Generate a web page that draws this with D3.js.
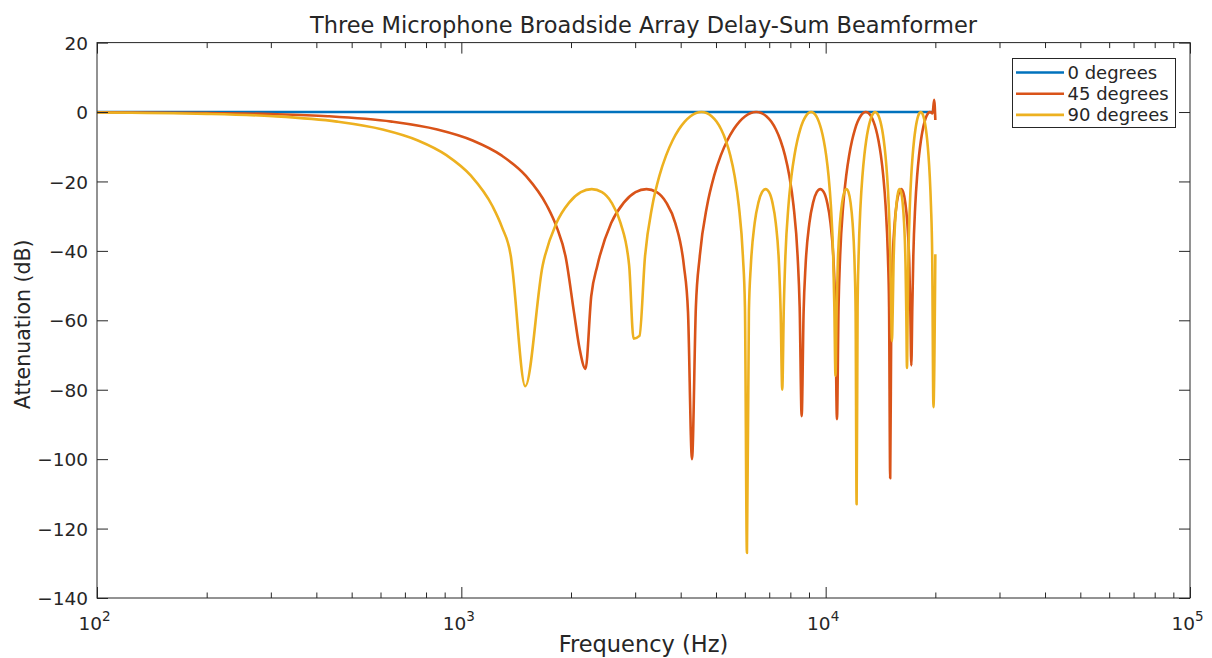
<!DOCTYPE html>
<html><head><meta charset="utf-8">
<script src="https://cdn.jsdelivr.net/npm/d3@7/dist/d3.min.js"></script>
<style>
body{margin:0;background:#fff}
svg text{font-family:"DejaVu Sans",sans-serif;fill:#262626}
</style></head>
<body><svg id="chart" width="1212" height="658"></svg>
<script>
// ---------- data ----------
const titleText = "Three Microphone Broadside Array Delay-Sum Beamformer";
const xLabelText = "Frequency (Hz)";
const yLabelText = "Attenuation (dB)";
const seriesNames = ["0 degrees", "45 degrees", "90 degrees"];
const seriesColors = ["#0072BD", "#D95319", "#EDB120"];

const yTicks = [20, 0, -20, -40, -60, -80, -100, -120, -140];
const xTickExponents = [2, 3, 4, 5];

// 0 degrees
const freq0 = [100, 1000, 5000, 10000, 20000];
const db0 = [0, 0, 0, 0, 0];

// 45 degrees
const freq45 = [100,200,300,430,644,859,1074,1289,1504,1718,1826,1933,2040,2110,2192,2273,2363,2578,2792,3007,3222,3437,3652,3866,4081,4189,4296,4403,4511,4726,4940,5155,5370,5585,5800,6014,6229,6444,
6659,6874,7088,7303,7518,7733,7948,8162,8377,8485,8592,8699,8807,9022,9236,9451,9666,9881,10096,10310,10525,10633,10740,10847,10955,11170,11384,11599,11814,12029,12244,12458,12673,12888,
13103,13318,13532,13747,13962,14177,14392,14606,14821,14929,15036,15143,15251,15466,15680,15895,16110,16325,16540,16754,16969,17077,17184,17291,17399,17614,17828,18043,18258,18473,18688,18902,19117,19332,19650,19850,20000];
const db45 = [-0.07,-0.26,-0.59,-1.2,-2.76,-5.04,-8.2,-12.5,-18.4,-27.0,-33.1,-41.7,-58,-68,-74,-53,-44.2,-32.0,-26.1,-23.1,-22.2,-23.1,-26.1,-32.0,-44.2,-57.5,-100,-56.2,-41.7,-27.0,-18.4,-12.5,-8.2,-5.04,-2.76,-1.2,-0.3,0,
-0.3,-1.2,-2.76,-5.04,-8.2,-12.5,-18.4,-27.0,-41.7,-56.2,-87.6,-57.5,-44.2,-32.0,-26.1,-23.1,-22.2,-23.1,-26.1,-32.0,-44.2,-57.5,-88.5,-56.2,-41.7,-27.0,-18.4,-12.5,-8.2,-5.04,-2.76,-1.2,-0.3,0,
-0.3,-1.2,-2.76,-5.04,-8.2,-12.5,-18.4,-27.0,-41.7,-56.2,-105.5,-57.5,-44.2,-32.0,-26.1,-23.1,-22.2,-23.1,-26.1,-32.0,-44.2,-57.5,-73,-56.2,-41.7,-27.0,-18.4,-12.5,-8.2,-5.04,-2.76,-1.2,-0.3,0,-0.4,3.5,-2.3];

// 90 degrees
const freq90 = [100,200,304,456,608,760,912,1064,1216,1292,1368,1382,1498,1672,1824,1976,2128,2280,2432,2584,2736,2888,2970,3083,3192,3344,3496,3648,3800,3952,4104,4256,4408,4560,
4712,4864,5016,5168,5320,5472,5624,5776,5928,6004,6080,6156,6232,6384,6536,6688,6840,6992,7144,7296,7448,7524,7600,7676,7752,7904,8056,8208,8360,8512,8664,8816,8968,9120,
9272,9424,9576,9728,9880,10032,10184,10336,10488,10564,10640,10716,10792,10944,11096,11248,11400,11552,11704,11856,12008,12084,12160,12236,12312,12464,12616,12768,12920,13072,13224,13376,13528,13680,
13832,13984,14136,14288,14440,14592,14744,14896,15048,15124,15200,15276,15352,15504,15656,15808,15960,16112,16264,16416,16568,16644,16720,16796,16872,17024,17176,17328,17480,17632,17784,17936,18088,18240,
18392,18544,18696,18848,19000,19152,19304,19456,19608,19760,20000];
const db90 = [-0.13,-0.52,-1.2,-2.76,-5.04,-8.2,-12.5,-18.4,-27.0,-33.1,-41.7,-45.5,-79,-44.2,-32.0,-26.1,-23.1,-22.2,-23.1,-26.1,-32.0,-44.2,-65.3,-64.5,-41.7,-27.0,-18.4,-12.5,-8.2,-5.04,-2.76,-1.2,-0.3,0,
-0.3,-1.2,-2.76,-5.04,-8.2,-12.5,-18.4,-27.0,-41.7,-56.2,-127,-57.5,-44.2,-32.0,-26.1,-23.1,-22.2,-23.1,-26.1,-32.0,-44.2,-57.5,-80,-56.2,-41.7,-27.0,-18.4,-12.5,-8.2,-5.04,-2.76,-1.2,-0.3,0,
-0.3,-1.2,-2.76,-5.04,-8.2,-12.5,-18.4,-27.0,-41.7,-56.2,-76,-57.5,-44.2,-32.0,-26.1,-23.1,-22.2,-23.1,-26.1,-32.0,-44.2,-57.5,-113,-56.2,-41.7,-27.0,-18.4,-12.5,-8.2,-5.04,-2.76,-1.2,-0.3,0,
-0.3,-1.2,-2.76,-5.04,-8.2,-12.5,-18.4,-27.0,-41.7,-56.2,-66,-57.5,-44.2,-32.0,-26.1,-23.1,-22.2,-23.1,-26.1,-32.0,-44.2,-57.5,-73.7,-56.2,-41.7,-27.0,-18.4,-12.5,-8.2,-5.04,-2.76,-1.2,-0.3,0,
-0.3,-1.2,-2.76,-5.04,-8.2,-12.5,-18.4,-27.0,-41.7,-85,-41];

// ---------- layout ----------
const svg = d3.select("#chart");
const L = 97, R = 1190, T = 42.6, B = 598;
const x = d3.scaleLog().domain([100, 100000]).range([L, R]);
const y = d3.scaleLinear().domain([-140, 20]).range([B, T]);
const axisColor = "#262626";

const series = [
  {name: seriesNames[0], color: seriesColors[0], pts: freq0.map((f, i) => ({f, v: db0[i]}))},
  {name: seriesNames[1], color: seriesColors[1], pts: freq45.map((f, i) => ({f, v: db45[i]}))},
  {name: seriesNames[2], color: seriesColors[2], pts: freq90.map((f, i) => ({f, v: db90[i]}))}
];

svg.append("defs").append("clipPath").attr("id", "plotclip")
  .append("rect").attr("x", L).attr("y", T).attr("width", R - L).attr("height", B - T);

// lines
const line = d3.line().x(d => x(d.f)).y(d => y(d.v)).curve(d3.curveMonotoneX);
const gLines = svg.append("g").attr("clip-path", "url(#plotclip)");
series.forEach(s => {
  gLines.append("path").datum(s.pts).attr("d", line)
    .attr("fill", "none").attr("stroke", s.color).attr("stroke-width", 2.6)
    .attr("stroke-linejoin", "round").attr("stroke-linecap", "butt");
});

// axes
const majorX = xTickExponents.map(e => Math.pow(10, e));
const minorX = [];
for (let e = 2; e < 5; e++) for (let m = 2; m <= 9; m++) minorX.push(m * Math.pow(10, e));
const TL = 11, TLm = 5.5;

function styleAxis(g) {
  g.select(".domain").remove();
  g.selectAll(".tick line").attr("stroke", axisColor).attr("stroke-width", 1);
}
svg.append("g").attr("transform", `translate(0,${B})`)
  .call(d3.axisBottom(x).tickValues(majorX).tickSizeInner(-TL).tickSizeOuter(0).tickFormat(""))
  .call(styleAxis);
svg.append("g").attr("transform", `translate(0,${B})`)
  .call(d3.axisBottom(x).tickValues(minorX).tickSizeInner(-TLm).tickSizeOuter(0).tickFormat(""))
  .call(styleAxis);
svg.append("g").attr("transform", `translate(0,${T})`)
  .call(d3.axisTop(x).tickValues(majorX).tickSizeInner(-TL).tickSizeOuter(0).tickFormat(""))
  .call(styleAxis);
svg.append("g").attr("transform", `translate(0,${T})`)
  .call(d3.axisTop(x).tickValues(minorX).tickSizeInner(-TLm).tickSizeOuter(0).tickFormat(""))
  .call(styleAxis);
const yAx = svg.append("g").attr("transform", `translate(${L},0)`)
  .call(d3.axisLeft(y).tickValues(yTicks).tickSizeInner(-TL).tickSizeOuter(0).tickPadding(9).tickFormat(d3.format("d")))
  .call(styleAxis);
yAx.selectAll(".tick text").attr("font-size", 18.5).attr("font-family", "DejaVu Sans").attr("fill", axisColor).attr("dy", "0.36em");
svg.append("g").attr("transform", `translate(${R},0)`)
  .call(d3.axisRight(y).tickValues(yTicks).tickSizeInner(-TL).tickSizeOuter(0).tickFormat(""))
  .call(styleAxis);

// x tick labels 10^n
xTickExponents.forEach(e => {
  const t = svg.append("text").attr("x", x(Math.pow(10, e)) - 2.5).attr("y", 630)
    .attr("text-anchor", "middle").attr("font-size", 18.5);
  t.append("tspan").text("10");
  t.append("tspan").attr("dy", -9).attr("font-size", 13.5).text(String(e));
});

// box
svg.append("rect").attr("x", L).attr("y", T).attr("width", R - L).attr("height", B - T)
  .attr("fill", "none").attr("stroke", axisColor).attr("stroke-width", 1);

// title and labels
svg.append("text").attr("x", (L + R) / 2).attr("y", 33).attr("text-anchor", "middle")
  .attr("font-size", 22.5).text(titleText);
svg.append("text").attr("x", (L + R) / 2).attr("y", 652).attr("text-anchor", "middle")
  .attr("font-size", 22.5).text(xLabelText);
svg.append("text").attr("transform", `translate(30,${(T + B) / 2 + 4}) rotate(-90)`)
  .attr("text-anchor", "middle").attr("font-size", 20.5).text(yLabelText);

// legend
const lg = svg.append("g");
lg.append("rect").attr("x", 1012.5).attr("y", 58.5).attr("width", 163).attr("height", 69)
  .attr("fill", "#fff").attr("stroke", axisColor).attr("stroke-width", 1);
series.forEach((s, i) => {
  const ry = 72.5 + i * 21.2;
  lg.append("line").attr("x1", 1016).attr("x2", 1064).attr("y1", ry).attr("y2", ry)
    .attr("stroke", s.color).attr("stroke-width", 2.6);
  lg.append("text").attr("x", 1067.5).attr("y", ry + 6.5).attr("font-size", 18).text(s.name);
});
</script>
</body></html>
